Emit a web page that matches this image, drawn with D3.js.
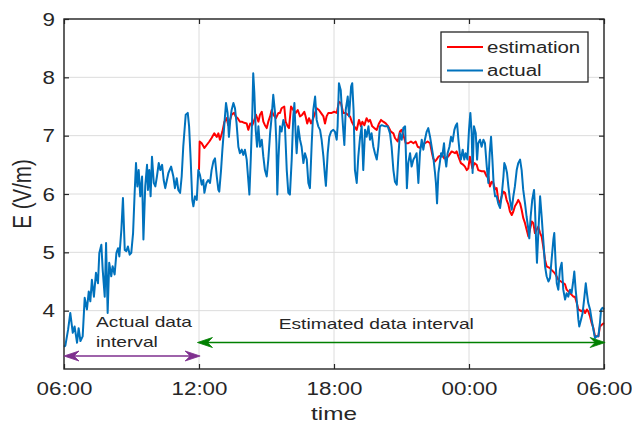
<!DOCTYPE html>
<html><head><meta charset="utf-8">
<script src="https://cdn.jsdelivr.net/npm/d3@7"></script>
<style>
body{margin:0;background:#fff}
svg{display:block}
text{font-family:"Liberation Sans",Arial,Helvetica,sans-serif;fill:#262626}
</style>
</head><body>
<svg id="chart" width="632" height="423"></svg>
<script>
// ---------- data (time in hours after 06:00, value in V/m) ----------
const xTickValues = [0, 6, 12, 18, 24];
const xTickLabels = ["06:00", "12:00", "18:00", "00:00", "06:00"];
const yTickValues = [4, 5, 6, 7, 8, 9];
const yTickLabels = ["4", "5", "6", "7", "8", "9"];
const seriesNames = ["estimation", "actual"];
const seriesColors = ["#FF0000", "#0072BD"];

const actual = [[0.00,3.38],[0.06,3.40],[0.18,3.67],[0.28,3.96],[0.39,3.62],[0.47,3.73],[0.58,3.45],[0.65,3.70],[0.73,3.48],[0.83,3.56],[0.92,4.22],[1.02,4.02],[1.10,4.33],[1.17,4.16],[1.24,4.53],[1.33,4.24],[1.42,4.65],[1.51,4.47],[1.57,4.99],[1.66,5.13],[1.72,4.70],[1.81,4.24],[1.87,5.16],[1.94,3.96],[2.01,4.82],[2.10,4.59],[2.16,4.76],[2.25,4.62],[2.33,4.99],[2.40,5.07],[2.46,4.93],[2.55,5.39],[2.62,5.93],[2.70,5.04],[2.77,5.02],[2.84,5.10],[2.92,4.96],[2.99,4.99],[3.07,5.33],[3.14,6.02],[3.20,6.53],[3.26,6.13],[3.32,6.41],[3.39,5.96],[3.47,6.30],[3.53,5.22],[3.61,6.13],[3.69,6.50],[3.73,6.07],[3.79,6.41],[3.85,5.96],[3.91,6.64],[3.99,6.19],[4.06,6.13],[4.13,6.30],[4.21,6.53],[4.28,6.41],[4.36,6.50],[4.43,6.24],[4.50,6.10],[4.64,6.36],[4.76,6.47],[4.86,6.30],[4.93,6.10],[5.01,6.27],[5.08,6.07],[5.16,6.02],[5.23,6.30],[5.30,6.81],[5.41,7.36],[5.50,7.39],[5.56,7.16],[5.63,6.59],[5.70,5.90],[5.75,5.79],[5.82,5.96],[5.90,5.90],[5.97,6.41],[6.04,6.33],[6.12,6.16],[6.19,6.24],[6.24,6.02],[6.33,6.19],[6.41,6.24],[6.49,6.19],[6.56,6.41],[6.64,6.56],[6.71,6.61],[6.79,6.30],[6.86,6.07],[6.90,6.04],[6.98,6.41],[7.04,6.76],[7.13,7.21],[7.20,7.56],[7.27,7.39],[7.33,6.98],[7.39,7.27],[7.45,7.44],[7.53,7.56],[7.60,7.47],[7.67,7.21],[7.75,6.81],[7.82,6.70],[7.90,6.76],[7.97,6.67],[8.04,6.76],[8.12,6.59],[8.19,6.24],[8.24,5.99],[8.30,6.59],[8.37,7.39],[8.41,8.07],[8.46,7.73],[8.52,7.10],[8.58,6.81],[8.64,7.16],[8.71,6.81],[8.79,6.93],[8.86,6.64],[8.93,6.41],[9.01,6.30],[9.08,6.59],[9.16,7.04],[9.23,7.33],[9.30,7.70],[9.38,7.39],[9.44,6.87],[9.48,5.99],[9.53,6.59],[9.60,7.16],[9.67,7.07],[9.75,7.27],[9.82,7.16],[9.90,6.41],[9.97,6.02],[10.04,5.99],[10.12,6.59],[10.19,7.33],[10.24,7.56],[10.30,6.98],[10.34,6.70],[10.41,7.16],[10.49,6.93],[10.56,6.81],[10.64,6.53],[10.71,6.70],[10.79,6.59],[10.86,6.19],[10.93,6.10],[11.01,6.87],[11.08,7.44],[11.16,7.67],[11.23,7.27],[11.30,7.16],[11.38,7.10],[11.45,6.93],[11.53,6.64],[11.60,6.30],[11.64,6.14],[11.72,6.70],[11.79,6.98],[11.87,7.07],[11.97,7.10],[12.04,7.07],[12.12,6.93],[12.16,7.16],[12.22,7.90],[12.30,7.78],[12.34,7.50],[12.41,7.10],[12.46,6.84],[12.52,7.44],[12.61,7.67],[12.67,7.33],[12.76,7.84],[12.81,7.90],[12.87,7.44],[12.93,6.41],[13.01,6.19],[13.08,6.64],[13.16,6.98],[13.23,7.16],[13.30,6.41],[13.38,7.10],[13.45,6.98],[13.53,7.16],[13.60,6.93],[13.67,7.04],[13.75,6.81],[13.82,6.70],[13.90,6.59],[13.97,6.81],[14.04,7.16],[14.12,7.18],[14.27,7.16],[14.39,7.16],[14.49,7.04],[14.56,6.81],[14.64,6.41],[14.71,6.21],[14.79,6.16],[14.86,6.64],[14.93,7.04],[15.01,6.93],[15.08,7.13],[15.16,7.16],[15.20,6.64],[15.24,6.10],[15.30,6.53],[15.38,6.70],[15.45,6.47],[15.53,6.59],[15.60,6.64],[15.67,6.70],[15.75,6.19],[15.82,6.70],[15.90,6.93],[15.97,6.76],[16.04,6.93],[16.12,7.07],[16.19,7.13],[16.27,6.98],[16.34,6.81],[16.41,6.64],[16.49,6.36],[16.53,6.19],[16.58,5.84],[16.64,6.36],[16.68,6.47],[16.76,6.70],[16.81,6.64],[16.89,6.87],[16.93,6.64],[16.99,6.47],[17.05,6.70],[17.13,6.81],[17.20,6.98],[17.27,6.90],[17.35,7.10],[17.42,7.18],[17.47,7.21],[17.53,6.93],[17.59,6.70],[17.64,6.59],[17.72,6.76],[17.79,6.59],[17.85,6.70],[17.93,6.59],[18.00,7.10],[18.06,7.39],[18.12,7.04],[18.16,6.36],[18.22,7.16],[18.30,7.04],[18.36,6.59],[18.41,6.87],[18.49,6.93],[18.56,6.81],[18.64,6.93],[18.71,6.87],[18.79,6.47],[18.86,6.19],[18.92,6.70],[18.98,6.98],[19.04,6.59],[19.10,6.13],[19.16,5.96],[19.23,5.96],[19.30,5.84],[19.38,5.76],[19.45,5.96],[19.53,6.30],[19.57,6.53],[19.63,6.47],[19.69,6.36],[19.75,6.13],[19.82,5.90],[19.90,5.73],[19.97,5.96],[20.04,6.13],[20.12,6.41],[20.19,6.53],[20.27,6.59],[20.34,6.41],[20.41,6.07],[20.49,5.84],[20.56,5.61],[20.64,5.39],[20.68,5.24],[20.74,5.61],[20.81,5.90],[20.89,6.07],[20.93,5.79],[20.98,5.22],[21.02,4.82],[21.08,5.33],[21.16,5.96],[21.23,5.61],[21.30,5.22],[21.38,4.76],[21.45,4.59],[21.53,4.50],[21.60,4.56],[21.67,4.87],[21.75,5.22],[21.79,5.33],[21.85,4.82],[21.90,4.47],[21.97,4.36],[22.04,4.70],[22.12,4.82],[22.19,4.36],[22.27,4.19],[22.34,4.30],[22.41,4.24],[22.49,4.36],[22.56,4.30],[22.64,4.53],[22.68,4.67],[22.74,4.36],[22.80,4.13],[22.86,3.85],[22.90,3.73],[22.98,3.85],[23.05,3.96],[23.13,4.24],[23.19,4.47],[23.24,4.30],[23.30,4.13],[23.38,4.02],[23.45,3.85],[23.53,3.67],[23.60,3.53],[23.67,3.56],[23.75,3.56],[23.82,3.79],[23.87,4.02],[23.93,4.05],[24.00,4.02]];

const estimation = [[6.00,6.41],[6.03,6.90],[6.12,6.87],[6.24,6.79],[6.34,6.84],[6.46,6.90],[6.56,6.96],[6.68,7.04],[6.79,6.98],[6.86,7.04],[6.93,6.93],[7.04,7.07],[7.13,7.24],[7.23,7.30],[7.30,7.18],[7.38,7.27],[7.45,7.36],[7.56,7.39],[7.63,7.33],[7.72,7.30],[7.82,7.24],[7.90,7.24],[8.01,7.22],[8.12,7.21],[8.19,7.10],[8.28,7.21],[8.37,7.18],[8.46,7.27],[8.53,7.36],[8.64,7.24],[8.71,7.36],[8.79,7.41],[8.86,7.24],[8.93,7.18],[9.01,7.13],[9.08,7.24],[9.16,7.33],[9.23,7.44],[9.30,7.36],[9.42,7.30],[9.53,7.39],[9.60,7.39],[9.67,7.47],[9.79,7.50],[9.85,7.24],[9.94,7.16],[10.00,7.13],[10.09,7.50],[10.19,7.44],[10.30,7.39],[10.39,7.44],[10.49,7.33],[10.59,7.36],[10.68,7.41],[10.74,7.33],[10.81,7.21],[10.89,7.30],[10.98,7.21],[11.08,7.30],[11.16,7.39],[11.23,7.47],[11.33,7.44],[11.42,7.39],[11.53,7.33],[11.60,7.21],[11.67,7.33],[11.75,7.39],[11.90,7.39],[12.01,7.41],[12.12,7.39],[12.22,7.58],[12.31,7.56],[12.41,7.39],[12.52,7.39],[12.61,7.36],[12.71,7.33],[12.79,7.24],[12.90,7.16],[13.01,7.10],[13.11,7.27],[13.20,7.16],[13.26,7.24],[13.35,7.18],[13.45,7.30],[13.53,7.24],[13.60,7.27],[13.70,7.16],[13.79,7.13],[13.90,7.10],[14.00,7.21],[14.09,7.27],[14.19,7.24],[14.30,7.21],[14.41,7.16],[14.53,7.07],[14.64,7.04],[14.71,6.96],[14.83,6.90],[14.93,7.07],[15.01,7.10],[15.08,7.01],[15.19,6.87],[15.30,6.87],[15.42,6.90],[15.53,6.87],[15.63,6.90],[15.72,6.81],[15.82,6.79],[15.90,6.84],[16.04,6.87],[16.16,6.90],[16.27,6.87],[16.34,6.73],[16.41,6.61],[16.49,6.56],[16.56,6.59],[16.64,6.64],[16.81,6.67],[16.90,6.61],[17.07,6.64],[17.23,6.73],[17.38,6.70],[17.45,6.73],[17.53,6.64],[17.64,6.53],[17.75,6.50],[17.82,6.47],[17.90,6.41],[17.97,6.44],[18.04,6.64],[18.15,6.44],[18.24,6.53],[18.34,6.50],[18.41,6.41],[18.56,6.39],[18.68,6.39],[18.79,6.30],[18.86,6.30],[18.93,6.13],[19.01,6.21],[19.08,6.19],[19.16,6.08],[19.23,6.10],[19.30,5.90],[19.38,5.84],[19.45,5.96],[19.53,6.04],[19.60,6.02],[19.67,5.90],[19.75,5.82],[19.82,5.70],[19.90,5.64],[19.97,5.70],[20.04,5.79],[20.12,5.84],[20.19,5.90],[20.27,5.84],[20.34,5.73],[20.41,5.59],[20.49,5.50],[20.56,5.39],[20.64,5.27],[20.71,5.39],[20.79,5.53],[20.86,5.50],[20.93,5.33],[21.01,5.39],[21.08,5.44],[21.16,5.33],[21.23,5.27],[21.30,5.10],[21.38,4.87],[21.45,4.76],[21.60,4.73],[21.67,4.70],[21.82,4.64],[21.97,4.53],[22.09,4.50],[22.27,4.45],[22.34,4.36],[22.49,4.30],[22.64,4.24],[22.71,4.24],[22.79,4.13],[22.86,4.02],[23.01,3.99],[23.08,4.02],[23.16,3.96],[23.24,4.02],[23.30,3.99],[23.38,3.90],[23.45,3.79],[23.53,3.70],[23.60,3.56],[23.75,3.56],[23.82,3.73],[23.90,3.76],[24.00,3.79]];

const intervalLabels = [["Actual data", "interval"], ["Estimated data interval"]];
const intervalRanges = [[0, 6.05], [5.93, 24.05]];
const intervalColors = ["#7E2F8E", "#008000"];

// ---------- layout ----------
const W = 632, H = 423;
const m = {l: 64, r: 28, t: 19, b: 54};
const SX = 1.28; // horizontal text stretch of the reference
const svg = d3.select("#chart");
const x = d3.scaleLinear().domain([0, 24]).range([m.l, W - m.r]);
const y = d3.scaleLinear().domain([3, 9]).range([H - m.b, m.t]);
const AX = "#262626";

// grid
const grid = svg.append("g");
grid.selectAll("line.h").data(yTickValues).join("line")
  .attr("x1", m.l).attr("x2", W - m.r)
  .attr("y1", d => y(d)).attr("y2", d => y(d))
  .attr("stroke", "#dcdcdc").attr("stroke-width", 1);
grid.selectAll("line.v").data(xTickValues).join("line")
  .attr("y1", m.t).attr("y2", H - m.b)
  .attr("x1", d => x(d)).attr("x2", d => x(d))
  .attr("stroke", "#dcdcdc").attr("stroke-width", 1);

// series
const line = d3.line().x(d => x(d[0])).y(d => y(d[1]));
svg.append("path").datum(estimation).attr("d", line)
  .attr("fill", "none").attr("stroke", seriesColors[0]).attr("stroke-width", 2)
  .attr("stroke-linejoin", "round");
svg.append("path").datum(actual).attr("d", line)
  .attr("fill", "none").attr("stroke", seriesColors[1]).attr("stroke-width", 2)
  .attr("stroke-linejoin", "round");

// axes
const fmtX = d => xTickLabels[xTickValues.indexOf(d)];
const fmtY = d => yTickLabels[yTickValues.indexOf(d)];
const gB = svg.append("g").attr("transform", `translate(0,${H - m.b})`)
  .call(d3.axisBottom(x).tickValues(xTickValues).tickFormat(fmtX).tickSizeInner(-5).tickSizeOuter(0));
const gL = svg.append("g").attr("transform", `translate(${m.l},0)`)
  .call(d3.axisLeft(y).tickValues(yTickValues).tickFormat(fmtY).tickSizeInner(-5).tickSizeOuter(0));
const gT = svg.append("g").attr("transform", `translate(0,${m.t})`)
  .call(d3.axisTop(x).tickValues(xTickValues).tickFormat("").tickSizeInner(-5).tickSizeOuter(0));
const gR = svg.append("g").attr("transform", `translate(${W - m.r},0)`)
  .call(d3.axisRight(y).tickValues(yTickValues).tickFormat("").tickSizeInner(-5).tickSizeOuter(0));
[gB, gL, gT, gR].forEach(g => {
  g.select(".domain").remove();
  g.selectAll(".tick line").attr("stroke", AX).attr("stroke-width", 1.2);
});
gB.selectAll(".tick text").attr("font-size", 17.5).attr("fill", AX)
  .attr("y", 26).attr("dy", 0).attr("transform", `scale(${SX},1)`);
gL.selectAll(".tick text").attr("font-size", 17.5).attr("fill", AX)
  .attr("x", -9 / SX).attr("dy", "0.36em").attr("transform", `scale(${SX},1)`);

svg.append("rect").attr("x", m.l).attr("y", m.t)
  .attr("width", W - m.l - m.r).attr("height", H - m.t - m.b)
  .attr("fill", "none").attr("stroke", AX).attr("stroke-width", 1.4);

// axis labels
svg.append("text").attr("text-anchor", "middle").attr("font-size", 19)
  .attr("transform", `translate(${(m.l + W - m.r) / 2},420) scale(${SX},1)`).text("time");
svg.append("text").attr("text-anchor", "middle").attr("font-size", 20.5)
  .attr("transform", `translate(31,${(m.t + H - m.b) / 2}) scale(${SX},1) rotate(-90)`).text("E (V/m)");

// legend
const lg = svg.append("g");
lg.append("rect").attr("x", 441).attr("y", 32).attr("width", 147).attr("height", 50)
  .attr("fill", "#fff").attr("stroke", AX).attr("stroke-width", 1.3);
seriesNames.forEach((n, i) => {
  const yy = 47 + i * 23.5;
  lg.append("line").attr("x1", 447).attr("x2", 483).attr("y1", yy).attr("y2", yy)
    .attr("stroke", seriesColors[i]).attr("stroke-width", 2);
  lg.append("text").attr("font-size", 16)
    .attr("transform", `translate(487,${yy + 5.5}) scale(${SX},1)`).text(n);
});

// interval annotations (double arrows)
const arrowY = [356, 342.5];
function arrowHead(g, tipX, yy, dir, color) {
  const L = 15, Hh = 5, N = 10;
  g.append("path")
    .attr("d", `M${tipX},${yy} L${tipX + dir * L},${yy - Hh} L${tipX + dir * N},${yy} L${tipX + dir * L},${yy + Hh} Z`)
    .attr("fill", color).attr("stroke", color).attr("stroke-width", 0.8);
}
intervalRanges.forEach((r, i) => {
  const g = svg.append("g");
  const x0 = x(r[0]), x1 = x(r[1]), yy = arrowY[i];
  g.append("line").attr("x1", x0 + 8).attr("x2", x1 - 8).attr("y1", yy).attr("y2", yy)
    .attr("stroke", intervalColors[i]).attr("stroke-width", 1.6);
  arrowHead(g, x0, yy, 1, intervalColors[i]);
  arrowHead(g, x1, yy, -1, intervalColors[i]);
});
intervalLabels[0].forEach((t, j) => {
  svg.append("text").attr("font-size", 15)
    .attr("transform", `translate(96,${327 + j * 20}) scale(${SX},1)`).text(t);
});
svg.append("text").attr("font-size", 15).attr("text-anchor", "middle")
  .attr("transform", `translate(${(x(intervalRanges[1][0]) + x(intervalRanges[1][1])) / 2 - 25},328.5) scale(${SX},1)`)
  .text(intervalLabels[1][0]);
</script>
</body></html>
